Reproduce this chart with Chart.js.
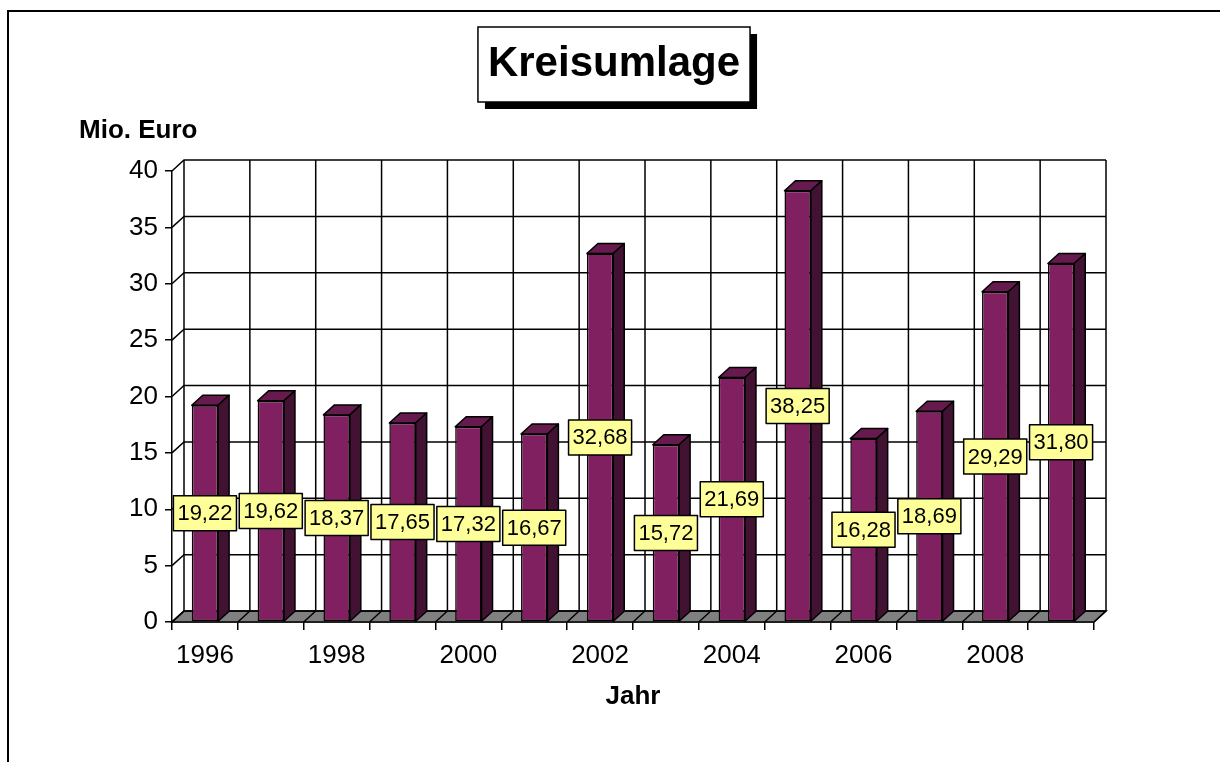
<!DOCTYPE html>
<html>
<head>
<meta charset="utf-8">
<script src="https://cdn.jsdelivr.net/npm/chart.js@4.4.1/dist/chart.umd.min.js"></script>
<style>
  html, body { margin: 0; padding: 0; background: #fff; overflow: hidden; }
  canvas { display: block; }
</style>
</head>
<body>
<canvas id="kreisChart" width="1220" height="762"></canvas>
<script>
// --- Daten (Mio. Euro) ---
const years = ['1996', '1997', '1998', '1999', '2000', '2001', '2002',
               '2003', '2004', '2005', '2006', '2007', '2008', '2009'];
const kreisumlage = [19.22, 19.62, 18.37, 17.65, 17.32, 16.67, 32.68,
                     15.72, 21.69, 38.25, 16.28, 18.69, 29.29, 31.80];
const shownYears = ['1996', '1998', '2000', '2002', '2004', '2006', '2008'];
const yMin = 0, yMax = 40, yStep = 5;
const chartTitle = 'Kreisumlage';

// Tiefe der 3D-Wand / Balken
const WALL_DX = 12, WALL_DY = -11;
const BAR_DX = 11, BAR_DY = -10;

const FRONT = '#802060';
const TOP = '#661a4d';
const SIDE = '#421232';
const LABEL_BG = '#ffff99';

function poly(ctx, pts, fill) {
    ctx.beginPath();
    ctx.moveTo(pts[0][0], pts[0][1]);
    for (let i = 1; i < pts.length; i++) ctx.lineTo(pts[i][0], pts[i][1]);
    ctx.closePath();
    ctx.fillStyle = fill;
    ctx.fill();
    ctx.stroke();
}

const excel3d = {
    id: 'excel3d',
    beforeDraw(chart) {
        const ctx = chart.ctx;
        ctx.save();
        // Rahmen
        ctx.strokeStyle = '#000';
        ctx.lineWidth = 2;
        ctx.beginPath();
        ctx.moveTo(8, 762);
        ctx.lineTo(8, 11);
        ctx.lineTo(1220, 11);
        ctx.stroke();

        // Titelkasten mit Schatten
        ctx.font = 'bold 42px Arial';
        const tw = ctx.measureText(chartTitle).width;
        const cx = 614, cy = 64.5;
        const bx = cx - tw / 2 - 10, by = 27;
        const bw = tw + 20, bh = 75;
        ctx.fillStyle = '#000';
        ctx.fillRect(bx + 7, by + 7, bw, bh);
        ctx.fillStyle = '#fff';
        ctx.fillRect(bx, by, bw, bh);
        ctx.lineWidth = 1.5;
        ctx.strokeRect(bx, by, bw, bh);
        ctx.fillStyle = '#000';
        ctx.textAlign = 'center';
        ctx.textBaseline = 'middle';
        ctx.fillText(chartTitle, cx, cy);

        // Achsentitel oben links
        ctx.font = 'bold 26px Arial';
        ctx.textAlign = 'left';
        ctx.textBaseline = 'alphabetic';
        ctx.fillText('Mio. Euro', 79, 138);
        ctx.restore();
    },
    beforeDatasetsDraw(chart) {
        const { ctx, chartArea: a, scales: { x, y } } = chart;
        ctx.save();
        ctx.strokeStyle = '#000';
        ctx.lineWidth = 1.5;

        // Boden
        poly(ctx, [[a.left, a.bottom], [a.right, a.bottom],
                   [a.right + WALL_DX, a.bottom + WALL_DY], [a.left + WALL_DX, a.bottom + WALL_DY]], '#808080');

        // Rückwand: waagerechte Linien + Diagonalen an der Seitenwand
        y.ticks.forEach(tk => {
            const py = y.getPixelForValue(tk.value);
            ctx.beginPath();
            ctx.moveTo(a.left, py);
            ctx.lineTo(a.left + WALL_DX, py + WALL_DY);
            ctx.lineTo(a.right + WALL_DX, py + WALL_DY);
            ctx.stroke();
        });

        // Rückwand: senkrechte Linien an den Kategoriegrenzen
        for (let i = 0; i <= years.length; i++) {
            const px = x.getPixelForValue(i - 0.5);
            ctx.beginPath();
            ctx.moveTo(px + WALL_DX, a.top + WALL_DY);
            ctx.lineTo(px + WALL_DX, a.bottom + WALL_DY);
            ctx.lineTo(px, a.bottom);
            ctx.stroke();
        }
        ctx.restore();
    },
    afterDatasetsDraw(chart) {
        const ctx = chart.ctx;
        const meta = chart.getDatasetMeta(0);
        ctx.save();
        ctx.strokeStyle = '#000';
        ctx.lineWidth = 1.5;
        ctx.lineJoin = 'round';

        meta.data.forEach(bar => {
            const { x: bx, y: by, base, width } = bar.getProps(['x', 'y', 'base', 'width'], true);
            const l = bx - width / 2, r = bx + width / 2;
            poly(ctx, [[l, by], [r, by], [r + BAR_DX, by + BAR_DY], [l + BAR_DX, by + BAR_DY]], TOP);
            poly(ctx, [[r, by], [r + BAR_DX, by + BAR_DY], [r + BAR_DX, base + BAR_DY], [r, base]], SIDE);
        });

        // Datenbeschriftung in gelben Kästchen
        ctx.font = '22px Arial';
        ctx.textAlign = 'center';
        ctx.textBaseline = 'middle';
        meta.data.forEach((bar, i) => {
            const { x: bx, y: by, base } = bar.getProps(['x', 'y', 'base'], true);
            const txt = kreisumlage[i].toFixed(2).replace('.', ',');
            const tw = ctx.measureText(txt).width;
            const cy = (by + base) / 2;
            const w = tw + 8, h = 35;
            ctx.fillStyle = LABEL_BG;
            ctx.fillRect(bx - w / 2, cy - h / 2, w, h);
            ctx.strokeRect(bx - w / 2, cy - h / 2, w, h);
            ctx.fillStyle = '#000';
            ctx.fillText(txt, bx, cy + 1);
        });
        ctx.restore();
    }
};

new Chart(document.getElementById('kreisChart'), {
    type: 'bar',
    data: {
        labels: years,
        datasets: [{
            label: chartTitle,
            data: kreisumlage,
            backgroundColor: FRONT,
            borderColor: '#000',
            borderWidth: 1.5,
            borderSkipped: false,
            categoryPercentage: 1,
            barPercentage: 0.4
        }]
    },
    options: {
        responsive: false,
        animation: false,
        layout: { padding: { left: 20, right: 126, top: 171, bottom: 0 } },
        plugins: {
            legend: { display: false },
            tooltip: { enabled: false },
            title: { display: false }
        },
        scales: {
            x: {
                offset: true,
                grid: { offset: true, drawOnChartArea: false, drawTicks: true, tickLength: 8, color: '#000', lineWidth: 1.5 },
                border: { display: true, color: '#000', width: 1.5 },
                ticks: {
                    color: '#000',
                    font: { family: 'Arial', size: 26 },
                    padding: 10,
                    autoSkip: false,
                    maxRotation: 0,
                    minRotation: 0,
                    callback: (v, i) => shownYears.includes(years[i]) ? years[i] : ''
                },
                title: {
                    display: true,
                    text: 'Jahr',
                    color: '#000',
                    font: { family: 'Arial', size: 26, weight: 'bold', lineHeight: 1.2 },
                    padding: { top: 0, bottom: 49.4 }
                },
                afterFit: scale => { scale.height = 140; }
            },
            y: {
                min: yMin,
                max: yMax,
                grid: { drawOnChartArea: false, drawTicks: true, tickLength: 7, color: '#000', lineWidth: 1.5 },
                border: { display: true, color: '#000', width: 1.5 },
                ticks: {
                    stepSize: yStep,
                    color: '#000',
                    font: { family: 'Arial', size: 26 },
                    padding: 7
                },
                afterFit: scale => { scale.width = 152; }
            }
        }
    },
    plugins: [excel3d]
});
</script>
</body>
</html>
